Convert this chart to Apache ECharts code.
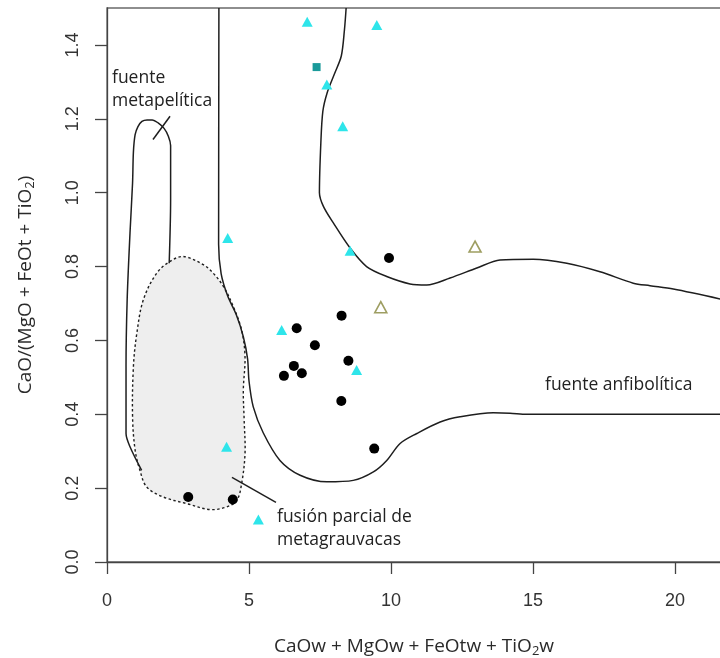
<!DOCTYPE html>
<html>
<head>
<meta charset="utf-8">
<script src="https://cdn.jsdelivr.net/npm/echarts@6/dist/echarts.min.js"></script>
<style>
  html, body { margin: 0; padding: 0; background: #ffffff; }
  #chart { width: 720px; height: 658px; }
</style>
</head>
<body>
<div id="chart"></div>
<script>
// Axis ticks
const xTicks = [0, 5, 10, 15, 20];
const yTicks = [0, 0.2, 0.4, 0.6, 0.8, 1.0, 1.2, 1.4];

// Samples: [CaOw+MgOw+FeOtw+TiO2w, CaO/(MgO+FeOt+TiO2)]
const blackCircles = [
  [6.68, 0.633], [8.26, 0.667], [7.32, 0.587], [6.58, 0.531],
  [6.86, 0.511], [6.23, 0.504], [8.50, 0.545], [8.25, 0.436],
  [9.41, 0.307], [9.93, 0.823], [2.86, 0.176], [4.43, 0.169]
];
const cyanTriangles = [
  [6.15, 0.628], [8.79, 0.520], [4.21, 0.312], [7.05, 1.463],
  [9.50, 1.454], [7.74, 1.293], [8.30, 1.180], [4.25, 0.877],
  [8.56, 0.843], [5.33, 0.115]
];
const tealSquares = [[7.38, 1.340]];
const oliveTriangles = [[12.96, 0.854], [9.64, 0.690]];

// Source field boundaries
const outerAmphibolite = [
  [3.94, 1.50], [3.93, 0.86], [4.02, 0.78], [4.25, 0.72], [4.55, 0.67],
  [4.80, 0.61], [4.95, 0.55], [5.00, 0.49], [5.15, 0.42], [5.50, 0.35],
  [6.09, 0.275], [6.80, 0.235], [7.74, 0.217], [8.67, 0.221], [9.38, 0.244],
  [9.85, 0.275], [10.32, 0.321], [10.91, 0.348], [11.73, 0.379], [12.43, 0.393],
  [13.60, 0.404], [14.19, 0.403], [14.78, 0.400], [21.6, 0.400]
];
const innerAmphibolite = [
  [8.42, 1.50], [8.36, 1.44], [8.25, 1.37], [8.00, 1.32], [7.75, 1.27],
  [7.60, 1.22], [7.53, 1.135], [7.48, 1.00], [7.62, 0.963], [7.97, 0.918],
  [8.56, 0.850], [9.14, 0.800], [9.85, 0.773], [10.67, 0.753], [11.26, 0.750],
  [12.08, 0.769], [13.02, 0.796], [13.84, 0.818], [15.01, 0.820], [16.19, 0.809],
  [17.36, 0.786], [18.53, 0.755], [19.12, 0.748], [19.94, 0.739], [21.6, 0.712]
];
const metapeliteField = [
  [1.22, 0.248], [0.81, 0.312], [0.67, 0.348], [0.67, 0.529], [0.71, 0.710],
  [0.81, 0.891], [0.90, 1.026], [0.93, 1.110], [0.99, 1.157], [1.09, 1.179],
  [1.23, 1.193], [1.41, 1.197], [1.59, 1.197], [1.80, 1.189], [2.01, 1.174],
  [2.16, 1.153], [2.24, 1.128], [2.24, 1.100], [2.24, 0.981], [2.19, 0.809]
];
const metagreywackeField = [
  [2.69, 0.827], [3.39, 0.805], [3.74, 0.782], [4.10, 0.746], [4.45, 0.691],
  [4.74, 0.628], [4.86, 0.556], [4.80, 0.465], [4.83, 0.384], [4.86, 0.294],
  [4.74, 0.212], [4.57, 0.167], [4.21, 0.149], [3.63, 0.142], [2.81, 0.158],
  [1.98, 0.176], [1.40, 0.203], [1.16, 0.248], [0.99, 0.303], [0.90, 0.393],
  [0.93, 0.529], [1.05, 0.619], [1.28, 0.710], [1.75, 0.782], [2.22, 0.814]
];
const metapeliteLeader = [[1.62, 1.144], [2.22, 1.207]];
const metagreywackeLeader = [[4.40, 0.229], [5.95, 0.1615]];

const LABEL_FONT = '"Open Sans", "Noto Sans", sans-serif';
const TICK_FONT = '"Liberation Sans", Arial, sans-serif';

const chart = echarts.init(document.getElementById('chart'), null, { renderer: 'canvas' });

function boundary(data, smooth) {
  return {
    type: 'line', data: data, symbol: 'none', smooth: smooth, silent: true, z: 3,
    lineStyle: { color: '#1e1e1e', width: 1.5 }
  };
}

const nameRich = {
  n: { fontSize: 19, fontFamily: LABEL_FONT, color: '#2a2a2a' },
  s: { fontSize: 13, fontFamily: LABEL_FONT, color: '#2a2a2a', padding: [9, 0, 0, 0] }
};

const noteStyle = {
  font: '17.5px ' + LABEL_FONT, lineHeight: 23.5, fill: '#222222', verticalAlign: 'top'
};

chart.setOption({
  animation: false,
  backgroundColor: '#ffffff',
  grid: {
    left: 107, right: -1, top: 8, bottom: 96,
    outerBoundsMode: 'none', containLabel: false,
    show: true, borderColor: '#6a6a6a', borderWidth: 1.3, backgroundColor: 'transparent'
  },
  xAxis: {
    type: 'value', min: 0, max: 21.62, interval: 5,
    name: '{n|CaOw + MgOw + FeOtw + TiO}{s|2}{n|w}',
    nameLocation: 'middle', nameGap: 74,
    nameTextStyle: { rich: nameRich },
    axisLine: { show: true, onZero: false, lineStyle: { color: '#444', width: 1.3 } },
    axisTick: { show: true, length: 12, customValues: xTicks, lineStyle: { color: '#444', width: 1.3 } },
    axisLabel: {
      customValues: xTicks, margin: 30, fontSize: 18, color: '#333',
      fontFamily: TICK_FONT
    },
    splitLine: { show: false }
  },
  yAxis: {
    type: 'value', min: 0, max: 1.5, interval: 0.2,
    name: '{n|CaO/(MgO + FeOt + TiO}{s|2}{n|)}',
    nameLocation: 'middle', nameGap: 70,
    nameTextStyle: { rich: nameRich },
    axisLine: { show: true, onZero: false, lineStyle: { color: '#444', width: 1.3 } },
    axisTick: { show: true, length: 12, customValues: yTicks, lineStyle: { color: '#444', width: 1.3 } },
    axisLabel: {
      customValues: yTicks, rotate: 90, margin: 25, fontSize: 18, color: '#333',
      fontFamily: TICK_FONT,
      formatter: function (v) { return v.toFixed(1); }
    },
    splitLine: { show: false }
  },
  graphic: [
    { type: 'text', x: 112, y: 66, silent: true, z: 10,
      style: Object.assign({ text: 'fuente\nmetapelítica' }, noteStyle) },
    { type: 'text', x: 277, y: 505, silent: true, z: 10,
      style: Object.assign({ text: 'fusión parcial de\nmetagrauvacas' }, noteStyle) },
    { type: 'text', x: 545, y: 373, silent: true, z: 10,
      style: Object.assign({ text: 'fuente anfibolítica' }, noteStyle) }
  ],
  series: [
    {
      // partial-melting field of metagreywackes: shaded, dotted outline
      type: 'custom', coordinateSystem: 'cartesian2d', data: [0], silent: true, z: 1,
      renderItem: function (params, api) {
        return {
          type: 'polygon',
          shape: { points: metagreywackeField.map(function (p) { return api.coord(p); }), smooth: 0.35 },
          style: { fill: '#eeeeee', stroke: '#1e1e1e', lineWidth: 1.4, lineDash: [2.5, 2.5] }
        };
      }
    },
    boundary(metapeliteField, 0.3),
    boundary(outerAmphibolite, 0.3),
    boundary(innerAmphibolite, 0.3),
    boundary(metapeliteLeader, false),
    boundary(metagreywackeLeader, false),
    {
      type: 'scatter', data: blackCircles, symbol: 'circle', symbolSize: 10, z: 5,
      itemStyle: { color: '#000000', opacity: 1 }
    },
    {
      type: 'scatter', data: cyanTriangles, symbol: 'triangle', symbolSize: [11, 10], z: 5,
      itemStyle: { color: '#2ee5ea', opacity: 1 }
    },
    {
      type: 'scatter', data: tealSquares, symbol: 'rect', symbolSize: 8, z: 5,
      itemStyle: { color: '#1a9a9a', opacity: 1 }
    },
    {
      type: 'scatter', data: oliveTriangles, symbol: 'triangle', symbolSize: [12, 11], z: 5,
      itemStyle: { color: 'rgba(255,255,255,0)', borderColor: '#9e9e62', borderWidth: 1.6, opacity: 1 }
    }
  ]
});
</script>
</body>
</html>
